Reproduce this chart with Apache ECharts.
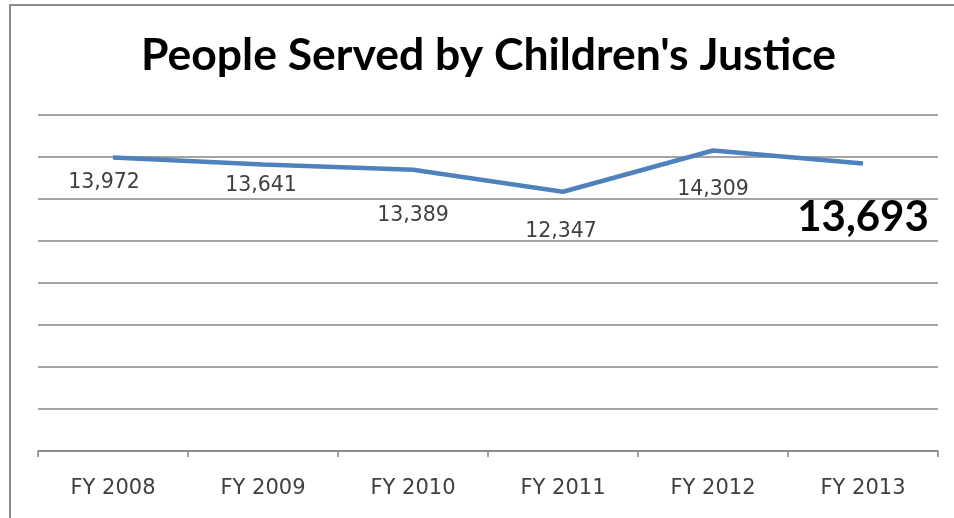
<!DOCTYPE html>
<html>
<head>
<meta charset="utf-8">
<script src="https://cdn.jsdelivr.net/npm/echarts@6/dist/echarts.min.js"></script>
<style>
  html, body { margin: 0; padding: 0; background: #fff; }
  #wrap { position: relative; width: 954px; height: 518px; }
  #chart { width: 954px; height: 518px; }
  /* frame remnants: only top and left edges are visible */
  #frame { position: absolute; left: 9px; top: 4px; right: 0; bottom: 0;
           border-top: 2px solid #8c8c8c; border-left: 2px solid #8c8c8c; pointer-events: none; }
</style>
</head>
<body>
<div id="wrap">
  <div id="chart"></div>
  <div id="frame"></div>
</div>
<script>
const categories = ["FY 2008", "FY 2009", "FY 2010", "FY 2011", "FY 2012", "FY 2013"];
const peopleServed = [13972, 13641, 13389, 12347, 14309, 13693];
const yTicks = [0, 2000, 4000, 6000, 8000, 10000, 12000, 14000, 16000];

// label nudges, copied from the hand-placed labels in the original
const labelOffsets = [[-9, 25], [-2, 21], [0, 46], [-2, 40], [0, 39], [0, 54]];

const chart = echarts.init(document.getElementById("chart"));

const fmt = (v) => v.toLocaleString("en-US");

chart.setOption({
  animation: false,
  title: {
    text: "People Served by Children's Justice",
    left: 136,
    top: 28,
    textStyle: { fontFamily: "Lato", fontWeight: "bold", fontSize: 44.5, color: "#000" },
  },
  grid: { left: 38, right: 16, top: 115, bottom: 67 },
  xAxis: {
    type: "category",
    data: categories,
    boundaryGap: true,
    axisLine: { lineStyle: { color: "#868686", width: 1.5 } },
    axisTick: { show: true, length: 6, lineStyle: { color: "#868686", width: 1.5 } },
    axisLabel: { color: "#404040", fontFamily: "DejaVu Sans", fontSize: 21, margin: 27 },
  },
  yAxis: {
    type: "value",
    min: yTicks[0],
    max: yTicks[yTicks.length - 1],
    interval: yTicks[1] - yTicks[0],
    axisLabel: { show: false },
    axisLine: { show: false },
    axisTick: { show: false },
    splitLine: { lineStyle: { color: "#868686", width: 1.5 } },
  },
  series: [
    {
      type: "line",
      data: peopleServed.map((v, i) => {
        const last = i === peopleServed.length - 1;
        return {
          value: v,
          label: {
            offset: labelOffsets[i],
            fontFamily: last ? "Lato" : "DejaVu Sans",
            fontWeight: last ? "bold" : "normal",
            fontSize: last ? 42 : 20.5,
            color: last ? "#000" : "#404040",
          },
        };
      }),
      showSymbol: true,
      symbol: "circle",
      symbolSize: 0,
      lineStyle: { color: "#4F81BD", width: 4.5 },
      itemStyle: { color: "#4F81BD" },
      label: {
        show: true,
        position: "inside",
        formatter: (p) => fmt(p.value),
      },
    },
  ],
});
</script>
</body>
</html>
